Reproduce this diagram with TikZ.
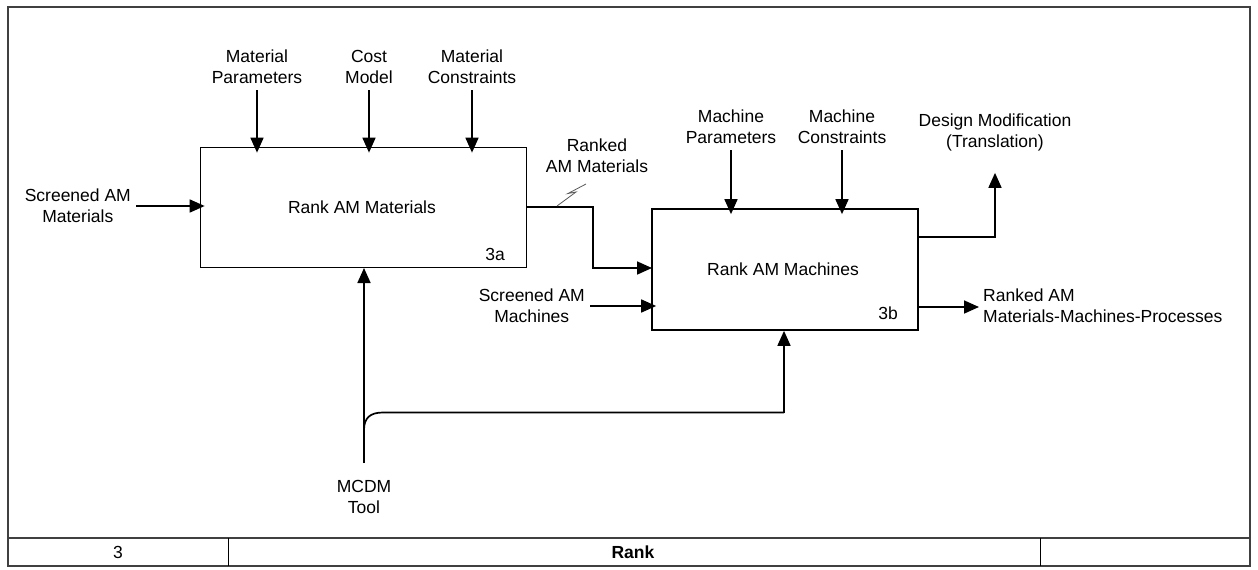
\documentclass[tikz,border=0pt]{standalone}
\usepackage{fontspec}
\setmainfont{Liberation Sans}
\usetikzlibrary{arrows.meta}
\begin{document}
\begin{tikzpicture}[x=1pt,y=-1pt,
  lbl/.style={font=\fontsize{17.5}{21}\selectfont, align=center, inner sep=0pt},
  proc/.style={draw, line width=1.7pt, minimum width=#1, inner sep=0pt},
  arr/.style={line width=1.7pt, -{Triangle[length=15pt,width=13pt]}},
  ln/.style={line width=1.7pt}]
\useasboundingbox (0,0) rectangle (1258,570);
% frame
\draw[line width=1.2pt, black!75] (8,7) rectangle (1250,566);
\draw[line width=1.2pt, black!75] (8,538) -- (1250,538);
\draw[line width=0.8pt] (228,538) -- (228,566);
\draw[line width=0.8pt] (1040,538) -- (1040,566);
\node[lbl] (fnum) at (118,552) {3};
\node[lbl, font=\fontsize{17.5}{21}\selectfont\bfseries] (ftitle) at (633,552) {Rank};
% boxes
\node[proc=326pt, minimum height=120pt] (A) at (363.5,207.5) {};
\node[lbl] (At) at (362,207) {Rank AM Materials};
\node[lbl] (An) at (495,254) {3a};
\node[proc=266pt, minimum height=121pt] (B) at (785,269.5) {};
\node[lbl] (Bt) at (783,269) {Rank AM Machines};
\node[lbl] (Bn) at (888,313) {3b};
% controls for A
\node[lbl, anchor=south] (mp) at (257,84) {Material\\Parameters};
\node[lbl, anchor=south] (cm) at (369,84) {Cost\\Model};
\node[lbl, anchor=south] (mc) at (472,84) {Material\\Constraints};
\draw[arr] ([yshift=-6pt]mp.south) -- ([yshift=-6pt]mp.south |- A.north);
\draw[arr] ([yshift=-6pt]cm.south) -- ([yshift=-6pt]cm.south |- A.north);
\draw[arr] ([yshift=-6pt]mc.south) -- ([yshift=-6pt]mc.south |- A.north);
% input A
\node[lbl, anchor=east] (sm) at (131,206) {Screened AM\\Materials};
\draw[arr] ([xshift=5pt]sm.east) -- ([xshift=5pt]sm.east -| A.west);
% output A -> B
\coordinate (bend1) at (593,207);
\draw[arr] (bend1 -| A.east) -- (bend1) -- (593,268) -- (652,268);
\draw[line width=0.8pt, black!65] (557,206) -- (576,192) -- (568,193.5) -- (586,184);
\node[lbl] (ram) at (597,156) {Ranked\\AM Materials};
% controls for B
\node[lbl, anchor=south] (mcp) at (731,144) {Machine\\Parameters};
\node[lbl, anchor=south] (mcc) at (842,144) {Machine\\Constraints};
\draw[arr] ([yshift=-6pt]mcp.south) -- ([yshift=-6pt]mcp.south |- B.north);
\draw[arr] ([yshift=-6pt]mcc.south) -- ([yshift=-6pt]mcc.south |- B.north);
% input B
\node[lbl, anchor=east] (sam) at (585,306) {Screened AM\\Machines};
\draw[arr] ([xshift=5pt]sam.east) -- ([xshift=5pt]sam.east -| B.west);
% outputs B
\node[lbl] (dm) at (995,132) {Design Modification\\(Translation)};
\coordinate (dmc) at (995,237);
\draw[arr] (dmc -| B.east) -- (dmc) -- ([yshift=-22pt]dm.south);
\node[lbl, anchor=west, align=left] (ramp) at (983,306) {Ranked AM\\Materials-Machines-Processes};
\draw[arr] (B.east |- 0,307) -- ([xshift=-4pt]ramp.west |- 0,307);
% mechanism
\node[lbl, anchor=north] (mcdm) at (364,480) {MCDM\\Tool};
\draw[arr] (364,463) -- (364,268);
\draw[ln] (364,430) .. controls (364,418) and (370,412.5) .. (383,412.5) -- (784,412.5);
\draw[arr] (784,412.5) -- (B.south -| 784,0);
\end{tikzpicture}
\end{document}
